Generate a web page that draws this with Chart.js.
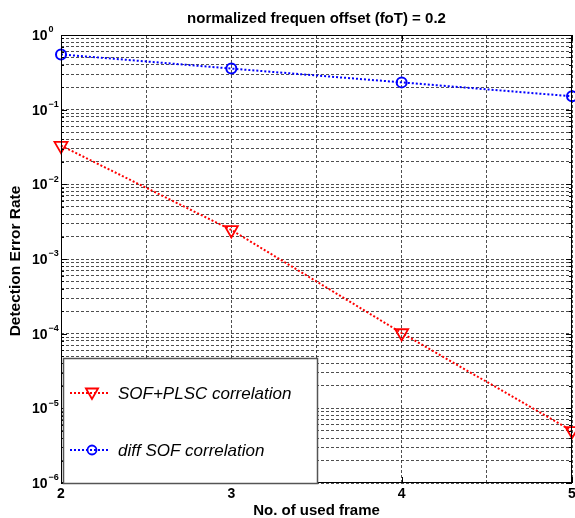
<!DOCTYPE html>
<html>
<head>
<meta charset="utf-8">
<script src="https://cdn.jsdelivr.net/npm/chart.js@4/dist/chart.umd.min.js"></script>
<style>
html,body{margin:0;padding:0;background:#fff;}
#wrap{width:575px;height:518px;}
</style>
</head>
<body>
<div id="wrap"><canvas id="c" width="575" height="518"></canvas></div>
<script>
// ---- data ----
const frames = [2, 3, 4, 5];
const sofPlscValues = [3.3e-2, 2.45e-3, 1.02e-4, 5.0e-6];
const diffSofValues = [0.55, 0.355, 0.232, 0.151];
const xTickLabels = [2, 3, 4, 5];
const yDecadeExps = [0, -1, -2, -3, -4, -5, -6];
const seriesNames = ['SOF+PLSC correlation', 'diff SOF correlation'];
const titleText = 'normalized frequen offset (foT) = 0.2';
const xTitle = 'No. of used frame';
const yTitle = 'Detection Error Rate';

const FONT = '"Liberation Sans", Arial, sans-serif';

function toPts(xs, ys) { return xs.map((x, i) => ({x: x, y: ys[i]})); }

function drawTri(ctx, x, y, r) {
  ctx.beginPath();
  ctx.moveTo(x, y + r);
  ctx.lineTo(x - r * Math.sqrt(3) / 2, y - r / 2);
  ctx.lineTo(x + r * Math.sqrt(3) / 2, y - r / 2);
  ctx.closePath();
  ctx.stroke();
}

const decorPlugin = {
  id: 'decor',
  afterDraw(chart) {
    const ctx = chart.ctx;
    const a = chart.chartArea;
    const xs = chart.scales.x, ys = chart.scales.y;
    ctx.save();
    // inward tick marks
    ctx.strokeStyle = '#000';
    ctx.lineWidth = 1;
    ctx.setLineDash([]);
    ctx.beginPath();
    ys.ticks.forEach(t => {
      const p = Math.round(ys.getPixelForValue(t.value)) + 0.5;
      const len = t.major ? 6 : 3;
      ctx.moveTo(a.left, p); ctx.lineTo(a.left + len, p);
      ctx.moveTo(a.right, p); ctx.lineTo(a.right - len, p);
    });
    xTickLabels.forEach(v => {
      const p = Math.round(xs.getPixelForValue(v)) + 0.5;
      ctx.moveTo(p, a.bottom); ctx.lineTo(p, a.bottom - 6);
      ctx.moveTo(p, a.top); ctx.lineTo(p, a.top + 6);
    });
    ctx.stroke();
    // frame
    ctx.strokeStyle = '#000';
    ctx.lineWidth = 1;
    ctx.strokeRect(Math.round(a.left) + 0.5, Math.round(a.top) + 0.5,
                   Math.round(a.right - a.left) - 1, Math.round(a.bottom - a.top) - 1);

    // y tick labels 10^n
    ctx.fillStyle = '#000';
    ctx.textBaseline = 'middle';
    ctx.textAlign = 'left';
    yDecadeExps.forEach(e => {
      const p = ys.getPixelForValue(Math.pow(10, e));
      ctx.font = 'bold 14px ' + FONT;
      ctx.fillText('10', 32, p + 1);
      const w = ctx.measureText('10').width;
      ctx.font = 'bold 9px ' + FONT;
      ctx.fillText(e === 0 ? '0' : '\u2212' + Math.abs(e), 32 + w + 1, p - 5);
    });

    // x tick labels
    ctx.textAlign = 'center';
    ctx.font = 'bold 14px ' + FONT;
    xTickLabels.forEach(v => {
      ctx.fillText(String(v), xs.getPixelForValue(v), 494);
    });

    // titles
    ctx.font = 'bold 15px ' + FONT;
    ctx.fillText(titleText, (a.left + a.right) / 2, 19);
    ctx.fillText(xTitle, (a.left + a.right) / 2, 511);
    ctx.save();
    ctx.translate(16, (a.top + a.bottom) / 2 + 2);
    ctx.rotate(-Math.PI / 2);
    ctx.font = 'bold 15.5px ' + FONT;
    ctx.fillText(yTitle, 0, 0);
    ctx.restore();

    // legend box
    const lx = 63, ly = 358, lw = 255, lh = 126;
    ctx.fillStyle = '#fff';
    ctx.fillRect(lx, ly, lw, lh);
    ctx.strokeStyle = '#555';
    ctx.lineWidth = 1.5;
    ctx.strokeRect(lx + 0.5, ly + 0.5, lw - 1, lh - 1);
    const entries = [
      {y: 393, color: '#ff0000', marker: 'tri', name: seriesNames[0]},
      {y: 450, color: '#0000ff', marker: 'circ', name: seriesNames[1]}
    ];
    entries.forEach(en => {
      ctx.strokeStyle = en.color;
      ctx.lineWidth = 2;
      ctx.setLineDash([2, 2]);
      ctx.beginPath();
      ctx.moveTo(70, en.y); ctx.lineTo(110, en.y);
      ctx.stroke();
      ctx.setLineDash([]);
      ctx.lineWidth = 1.8;
      if (en.marker === 'tri') {
        drawTri(ctx, 92, en.y - 1, 7);
      } else {
        ctx.beginPath();
        ctx.arc(92, en.y, 4.5, 0, Math.PI * 2);
        ctx.stroke();
      }
      ctx.fillStyle = '#000';
      ctx.textAlign = 'left';
      ctx.textBaseline = 'middle';
      ctx.font = 'italic 17px ' + FONT;
      ctx.fillText(en.name, 118, en.y + 1);
    });
    ctx.restore();
  }
};

new Chart(document.getElementById('c'), {
  type: 'line',
  data: {
    datasets: [
      {
        label: seriesNames[0],
        data: toPts(frames, sofPlscValues),
        borderColor: '#ff0000',
        borderWidth: 2,
        borderDash: [2, 2],
        pointStyle: 'triangle',
        rotation: 180,
        pointRadius: 7.5,
        pointBorderWidth: 1.8,
        pointBorderColor: '#ff0000',
        pointBackgroundColor: 'rgba(0,0,0,0)',
        fill: false,
        tension: 0,
        clip: 10
      },
      {
        label: seriesNames[1],
        data: toPts(frames, diffSofValues),
        borderColor: '#0000ff',
        borderWidth: 2,
        borderDash: [2, 2],
        pointStyle: 'circle',
        pointRadius: 5,
        pointBorderWidth: 2,
        pointBorderColor: '#0000ff',
        pointBackgroundColor: 'rgba(0,0,0,0)',
        fill: false,
        tension: 0,
        clip: 10
      }
    ]
  },
  options: {
    responsive: false,
    animation: false,
    devicePixelRatio: 1,
    layout: {autoPadding: false, padding: {top: 35, right: 3, left: 0, bottom: 0}},
    plugins: {legend: {display: false}, tooltip: {enabled: false}, title: {display: false}},
    scales: {
      x: {
        type: 'linear',
        min: 2, max: 5,
        afterBuildTicks(scale) {
          const t = [];
          for (let v = 2; v <= 5.0001; v += 0.5) t.push({value: v});
          scale.ticks = t;
        },
        afterFit(scale) { scale.height = 35; },
        ticks: {display: false},
        grid: {color: '#222', lineWidth: 0.8, drawTicks: false},
        border: {display: false, dash: [3, 2]}
      },
      y: {
        type: 'logarithmic',
        min: 1e-6, max: 1,
        afterBuildTicks(scale) {
          const t = [];
          yDecadeExps.forEach(e => {
            const b = Math.pow(10, e);
            t.push({value: b, major: true});
            if (e > -6) {
              for (let k = 2; k <= 9; k++) t.push({value: k * b / 10, major: false});
            }
          });
          scale.ticks = t;
        },
        afterFit(scale) { scale.width = 61; },
        ticks: {display: false},
        grid: {color: '#222', lineWidth: 0.8, drawTicks: false},
        border: {display: false, dash: [3, 2]}
      }
    }
  },
  plugins: [decorPlugin]
});
</script>
</body>
</html>
